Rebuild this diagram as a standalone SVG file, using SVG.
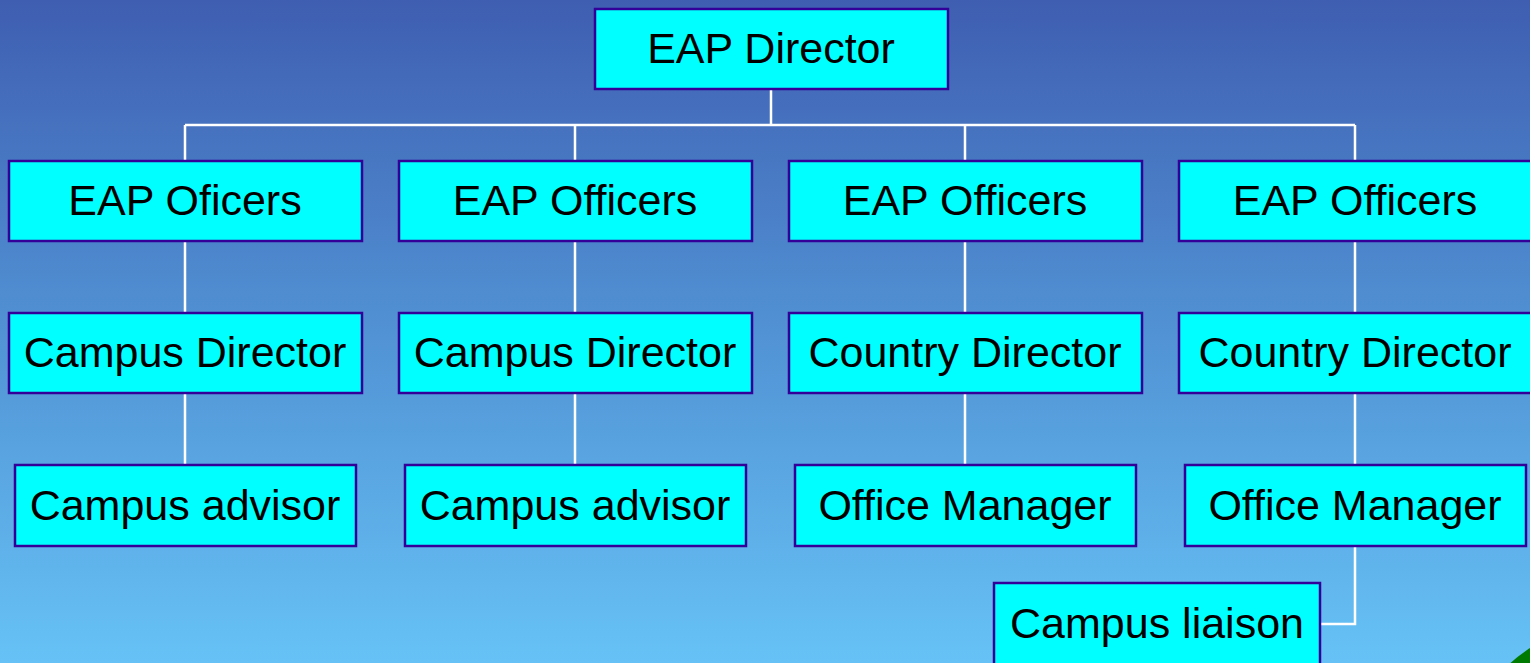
<svg xmlns="http://www.w3.org/2000/svg" width="1530" height="663" viewBox="0 0 1530 663">
<defs>
<linearGradient id="bg" x1="0" y1="0" x2="0" y2="1">
<stop offset="0" stop-color="#3F5EB1"/>
<stop offset="0.5" stop-color="#5192D4"/>
<stop offset="1" stop-color="#66C2F6"/>
</linearGradient>
</defs>
<style>
.box{fill:#00FFFF;stroke:#330099;stroke-width:2.5}
.t{font-family:"Liberation Sans",Arial,sans-serif;font-size:43px;fill:#000;text-anchor:middle}
.c{fill:none;stroke:#FFFFFF;stroke-width:2.5}
</style>
<rect x="0" y="0" width="1530" height="663" fill="url(#bg)"/>
<circle cx="1600" cy="760" r="132" fill="#007A00"/>
<g id="connectors">
<path class="c" d="M771 89V125M185 125H1355M185 125V161M575 125V161M965 125V161M1355 125V161"/>
<path class="c" d="M185 241V313M575 241V313M965 241V313M1355 241V313"/>
<path class="c" d="M185 393V465M575 393V465M965 393V465M1355 393V465"/>
<path class="c" d="M1355 546V624H1320"/>
</g>
<g id="director"><rect class="box" x="595" y="9" width="353" height="80"/><text class="t" x="771" y="63">EAP Director</text></g>
<g id="officers1"><rect class="box" x="9" y="161" width="353" height="80"/><text class="t" x="185" y="215">EAP Oficers</text></g>
<g id="officers2"><rect class="box" x="399" y="161" width="353" height="80"/><text class="t" x="575" y="215">EAP Officers</text></g>
<g id="officers3"><rect class="box" x="789" y="161" width="353" height="80"/><text class="t" x="965" y="215">EAP Officers</text></g>
<g id="officers4"><rect class="box" x="1179" y="161" width="353" height="80"/><text class="t" x="1355" y="215">EAP Officers</text></g>
<g id="campusdir1"><rect class="box" x="9" y="313" width="353" height="80"/><text class="t" x="185" y="367">Campus Director</text></g>
<g id="campusdir2"><rect class="box" x="399" y="313" width="353" height="80"/><text class="t" x="575" y="367">Campus Director</text></g>
<g id="countrydir1"><rect class="box" x="789" y="313" width="353" height="80"/><text class="t" x="965" y="367">Country Director</text></g>
<g id="countrydir2"><rect class="box" x="1179" y="313" width="353" height="80"/><text class="t" x="1355" y="367">Country Director</text></g>
<g id="advisor1"><rect class="box" x="15" y="465" width="341" height="81"/><text class="t" x="185" y="520">Campus advisor</text></g>
<g id="advisor2"><rect class="box" x="405" y="465" width="341" height="81"/><text class="t" x="575" y="520">Campus advisor</text></g>
<g id="manager1"><rect class="box" x="795" y="465" width="341" height="81"/><text class="t" x="965" y="520">Office Manager</text></g>
<g id="manager2"><rect class="box" x="1185" y="465" width="341" height="81"/><text class="t" x="1355" y="520">Office Manager</text></g>
<g id="liaison"><rect class="box" x="994" y="583" width="326" height="90"/><text class="t" x="1157" y="638">Campus liaison</text></g>
</svg>
